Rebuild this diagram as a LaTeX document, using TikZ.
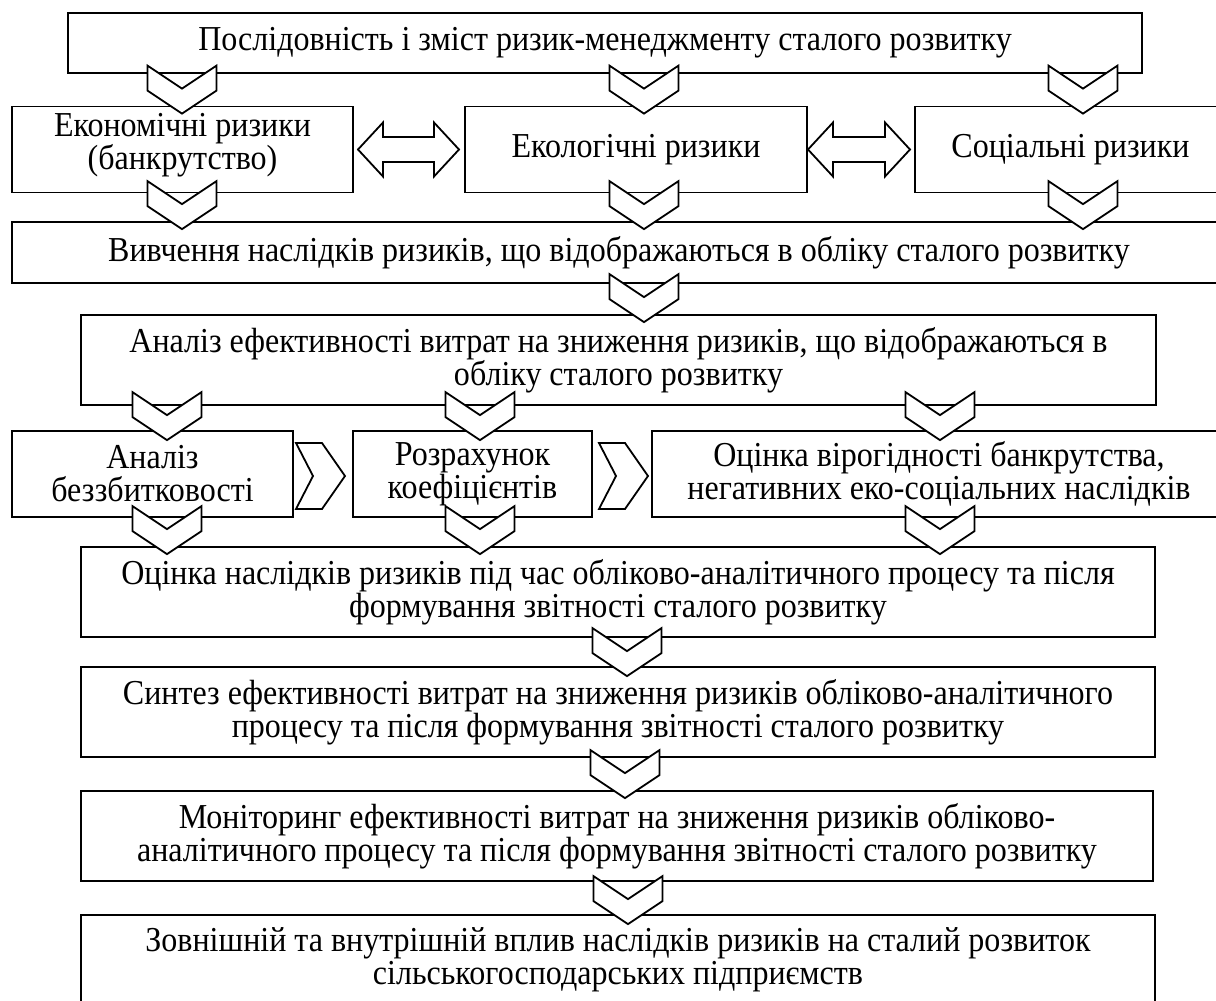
\documentclass[tikz,border=0pt]{standalone}
\usepackage{fontspec}
\setmainfont{Liberation Serif}[FakeStretch=0.915]
\begin{document}
\begin{tikzpicture}[x=1pt,y=-1pt,
  box/.style={draw, line width=1.8pt, fill=white, inner sep=0pt},
  txt/.style={align=center, inner sep=0pt, font=\fontsize{35}{33}\selectfont},
  blk/.style={draw, line width=1.8pt, fill=white, line join=miter},
  dchev/.pic={\path[blk] (-34.5,-48) -- (0,-25) -- (34.5,-48) -- (34.5,-23) -- (0,0) -- (-34.5,-23) -- cycle;},
  rchev/.pic={\path[blk] (0,0) -- (26,0) -- (49,33) -- (26,66) -- (0,66) -- (17,33) -- cycle;},
  dblarr/.pic={\path[blk] (0,0) -- (25,-27) -- (25,-12.5) -- (\arrlen-25,-12.5) -- (\arrlen-25,-27) -- (\arrlen,0) -- (\arrlen-25,27) -- (\arrlen-25,12.5) -- (25,12.5) -- (25,27) -- cycle;}
]
\useasboundingbox (0,0) rectangle (1216,1001);
\clip (0,0) rectangle (1216,1001);
\fill[white] (0,0) rectangle (1216,1001);

% boxes
\node[box, minimum width=1074pt, minimum height=60pt] (b1) at (605,43) {};
\node[box, minimum width=341pt, minimum height=86pt] (b2a) at (182.5,149.5) {};
\node[box, minimum width=342pt, minimum height=86pt] (b2b) at (636,149.5) {};
\node[box, minimum width=311pt, minimum height=86pt] (b2c) at (1070.5,149.5) {};
\node[box, minimum width=1214pt, minimum height=61pt] (b3) at (619,252.5) {};
\node[box, minimum width=1075pt, minimum height=90pt] (b4) at (618.5,360) {};
\node[box, minimum width=281pt, minimum height=86pt] (b5a) at (152.5,474) {};
\node[box, minimum width=239pt, minimum height=86pt] (b5b) at (472.5,474) {};
\node[box, minimum width=574pt, minimum height=86pt] (b5c) at (939,474) {};
\node[box, minimum width=1074pt, minimum height=90pt] (b6) at (618,592) {};
\node[box, minimum width=1074pt, minimum height=90pt] (b7) at (618,712) {};
\node[box, minimum width=1072pt, minimum height=90pt] (b8) at (617,836) {};
\node[box, minimum width=1074pt, minimum height=90pt] (b9) at (618,960) {};

% horizontal double arrows
\def\arrlen{101}
\pic at (b2a.east -| 358,0) {dblarr};
\def\arrlen{102}
\pic at (b2b.east -| 808,0) {dblarr};

% right chevrons
\pic at (296,443) {rchev};
\pic at (599,443) {rchev};

% down chevrons
\foreach \xx in {182,644,1083} {\pic at ([yshift=-8pt]b2a.north -| \xx,0) {dchev};}
\foreach \xx in {182,644,1083} {\pic at ([yshift=-8pt]b3.north -| \xx,0) {dchev};}
\pic at ([yshift=-8pt]b4.north -| 644,0) {dchev};
\foreach \xx in {167,480,940} {\pic at ([yshift=-10pt]b5a.north -| \xx,0) {dchev};}
\foreach \xx in {167,480,940} {\pic at ([yshift=-8pt]b6.north -| \xx,0) {dchev};}
\pic at ([yshift=-10pt]b7.north -| 627,0) {dchev};
\pic at ([yshift=-8pt]b8.north -| 625,0) {dchev};
\pic at ([yshift=-10pt]b9.north -| 628,0) {dchev};

% texts
\node[txt] (t1) at (b1.center) {Послідовність і зміст ризик-менеджменту сталого розвитку};
\node[txt] (t2a) at ([yshift=4pt]b2a.center) {Економічні ризики\\(банкрутство)};
\node[txt] (t2b) at (b2b.center) {Екологічні ризики};
\node[txt] (t2c) at (b2c.center) {Соціальні ризики};
\node[txt] (t3) at (b3.center) {Вивчення наслідків ризиків, що відображаються в обліку сталого розвитку};
\node[txt] (t4) at (b4.center) {Аналіз ефективності витрат на зниження ризиків, що відображаються в\\обліку сталого розвитку};
\node[txt] (t5a) at (b5a.center) {Аналіз\\беззбитковості};
\node[txt] (t5b) at (b5b.center) {Розрахунок\\коефіцієнтів};
\node[txt] (t5c) at (b5c.center) {Оцінка вірогідності банкрутства,\\негативних еко-соціальних наслідків};
\node[txt] (t6) at (b6.center) {Оцінка наслідків ризиків під час обліково-аналітичного процесу та після\\формування звітності сталого розвитку};
\node[txt] (t7) at (b7.center) {Синтез ефективності витрат на зниження ризиків обліково-аналітичного\\процесу та після формування звітності сталого розвитку};
\node[txt] (t8) at (b8.center) {Моніторинг ефективності витрат на зниження ризиків обліково-\\аналітичного процесу та після формування звітності сталого розвитку};
\node[txt] (t9) at (b9.center) {Зовнішній та внутрішній вплив наслідків ризиків на сталий розвиток\\сільськогосподарських підприємств};
\end{tikzpicture}
\end{document}
